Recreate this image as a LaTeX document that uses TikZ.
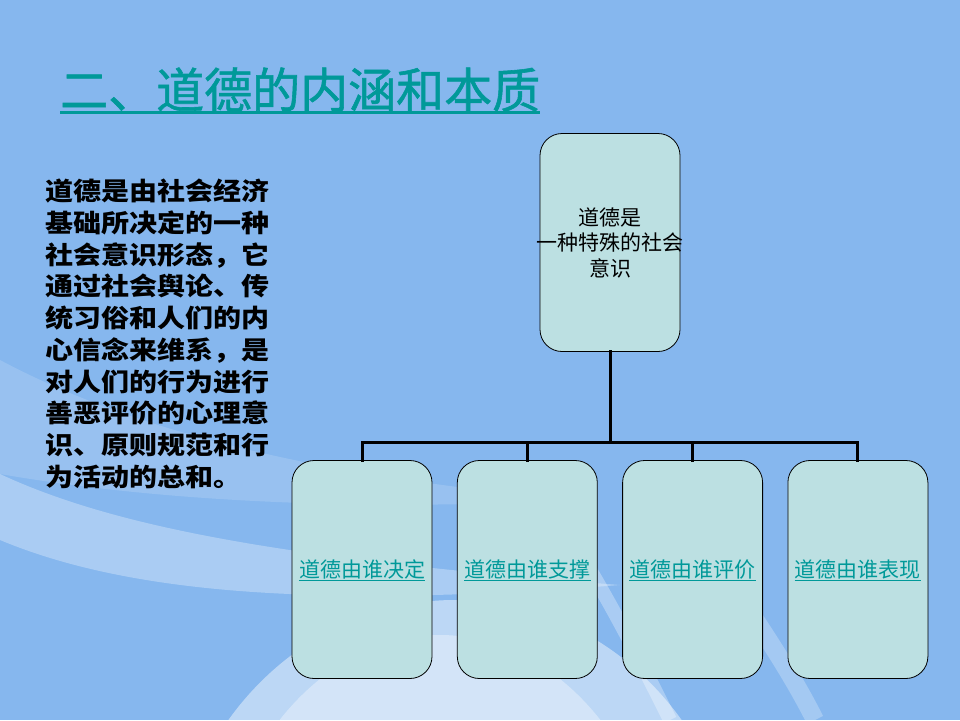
\documentclass[tikz,border=0pt]{standalone}
\usepackage{fontspec}
\newfontfamily\cjk{Noto Sans CJK SC}
\newfontfamily\cjktitle[FakeBold=1.2]{Noto Sans CJK SC}
\newfontfamily\cjkwide[FakeStretch=1.12]{Noto Sans CJK SC}
\usetikzlibrary{positioning}
\definecolor{bgblue}{RGB}{134,183,238}
\definecolor{boxfill}{RGB}{188,224,226}
\definecolor{tealtext}{RGB}{0,153,153}
\begin{document}
\begin{tikzpicture}[x=1pt,y=-1pt,
  box/.style={draw=black,line width=0.8pt,fill=boxfill,rounded corners=22pt,
    minimum width=140pt,minimum height=218pt,inner sep=0pt},
  link/.style={line width=3pt,line cap=rect},
  boxtext/.style={font={\cjk\fontsize{21}{25.5}\selectfont},align=center,inner sep=0pt},
  ultext/.style={boxtext,text=tealtext},
  ulline/.style={draw=tealtext,line width=1pt}]
\useasboundingbox (0,0) rectangle (960,720);
\begin{scope}
\clip (0,0) rectangle (960,720);
\fill[bgblue] (0,0) rectangle (960,720);
\fill[white,opacity=0.15] (0,360) .. controls (150,440) and (350,480) .. (580,500)
  .. controls (350,512) and (150,500) .. (0,474) -- cycle;
\fill[white,opacity=0.3] (0,474) .. controls (120,530) and (300,560) .. (620,585)
  .. controls (300,610) and (120,590) .. (0,540) -- cycle;
\fill[white,opacity=0.45] (455,905) ellipse [x radius=285,y radius=305];
\fill[white,opacity=0.35] (440,935) ellipse [x radius=230,y radius=300];
\draw[white,opacity=0.3,line width=14pt] (560,520) .. controls (610,600) and (640,660) .. (670,720);
\draw[white,opacity=0.25,line width=18pt] (700,540) .. controls (750,610) and (790,670) .. (815,720);
\end{scope}
\node[font={\cjktitle\fontsize{48}{50}\selectfont},text=tealtext,anchor=base west,inner sep=0pt]
  (title) at (60,108) {二、道德的内涵和本质};
\draw[tealtext,line width=3pt] ([yshift=-4.5pt]title.base west) -- ([yshift=-4.5pt]title.base east);
\node[font={\cjkwide\bfseries\fontsize{25}{31.7}\selectfont},align=left,anchor=north west,inner sep=0pt]
  (para) at (45,179) {道德是由社会经济\\基础所决定的一种\\社会意识形态，它\\通过社会舆论、传\\统习俗和人们的内\\心信念来维系，是\\对人们的行为进行\\善恶评价的心理意\\识、原则规范和行\\为活动的总和。};
\node[box] (top) at (610,242.5) {};
\node[boxtext] (toptext) at (top) {道德是\\一种特殊的社会\\意识};
\node[box] (b1) at (362,569.5) {};
\node[box,right=24.5pt of b1] (b2) {};
\node[box,right=24.5pt of b2] (b3) {};
\node[box,right=24.5pt of b3] (b4) {};
\draw[link] (top.south) -- ++(0,91) coordinate (hub);
\foreach \i in {1,...,4}
  \draw[link] (hub) -| (b\i.north);
\foreach \i/\t in {1/道德由谁决定,2/道德由谁支撑,3/道德由谁评价,4/道德由谁表现}{
  \node[ultext] (l\i) at (b\i) {\t};
  \draw[ulline] ([yshift=-3pt]l\i.base west) -- ([yshift=-3pt]l\i.base east);
}
\end{tikzpicture}
\end{document}
